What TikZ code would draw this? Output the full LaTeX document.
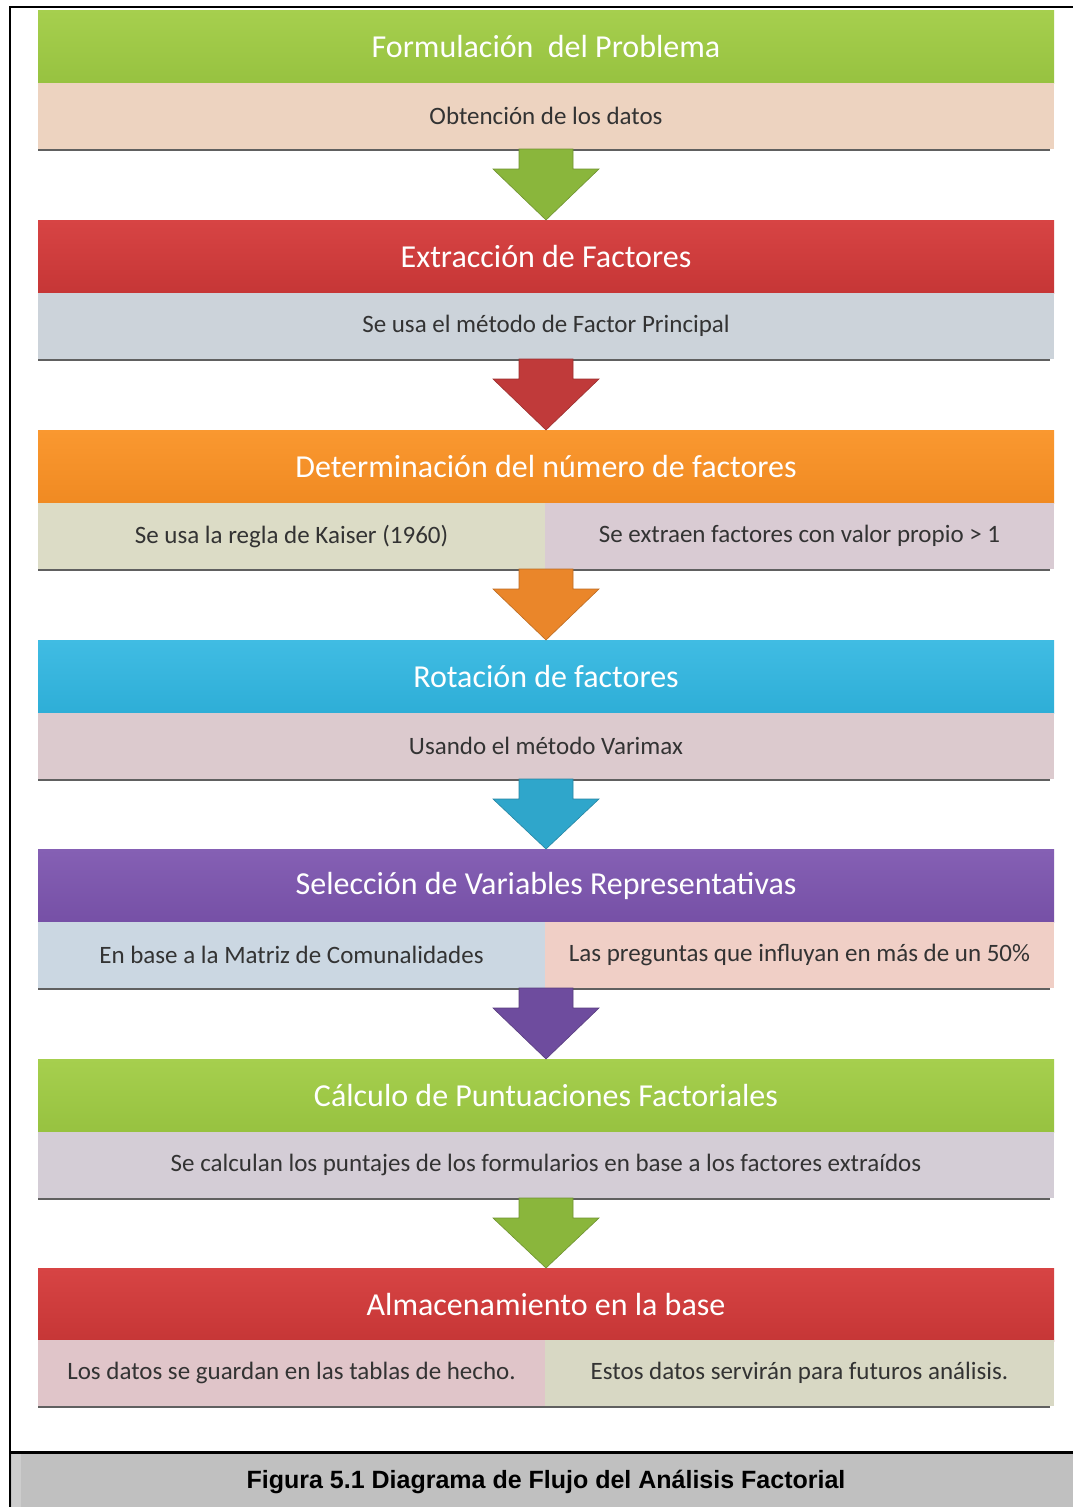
\documentclass[tikz,border=0pt]{standalone}
\usepackage{fontspec}
\setmainfont{Carlito}
\newfontfamily\capfont{Liberation Sans}
\usetikzlibrary{calc}
\definecolor{greenH}{HTML}{A6CF4E}
\definecolor{greenHd}{HTML}{97C240}
\definecolor{redH}{HTML}{D74444}
\definecolor{redHd}{HTML}{C63636}
\definecolor{orangeH}{HTML}{FA9830}
\definecolor{orangeHd}{HTML}{F08A22}
\definecolor{cyanH}{HTML}{40BCE3}
\definecolor{cyanHd}{HTML}{2EAED7}
\definecolor{purpleH}{HTML}{8560B4}
\definecolor{purpleHd}{HTML}{7650A6}
\definecolor{subPeach}{HTML}{EDD3C0}
\definecolor{subGray}{HTML}{CCD3DA}
\definecolor{subBeige}{HTML}{DCDCC6}
\definecolor{subLav}{HTML}{D9CBD3}
\definecolor{subPink}{HTML}{DCCACE}
\definecolor{subBlue}{HTML}{CBD7E2}
\definecolor{subRose}{HTML}{F0CFC6}
\definecolor{subLav2}{HTML}{D4CDD6}
\definecolor{subPink2}{HTML}{E0C5C9}
\definecolor{subBeige2}{HTML}{D8D8C4}
\definecolor{subtext}{HTML}{333333}
\definecolor{arGreen}{HTML}{8AB63C}
\definecolor{arRed}{HTML}{C03A3A}
\definecolor{arOrange}{HTML}{EA862A}
\definecolor{arCyan}{HTML}{2FA6CB}
\definecolor{arPurple}{HTML}{6E4C9E}
\definecolor{capgray}{HTML}{C0C0C0}
\newcommand\flowarrow[3]{%
  \fill[#3, draw=#3!80!black, line width=0.6pt]
    ($(#1)+(-27,0)$) -- ($(#1)+(27,0)$) -- ($(#1)+(27,20)$) -- ($(#1)+(53,20)$)
    -- (#2.north) -- ($(#1)+(-53,20)$) -- ($(#1)+(-27,20)$) -- cycle;}
\begin{document}
\begin{tikzpicture}[x=1pt,y=-1pt,
  hdr/.style={minimum width=1016pt, minimum height=73pt, inner sep=0pt, outer sep=0pt,
    anchor=north west, text=white, font=\fontsize{32}{32}\selectfont},
  subfull/.style={minimum width=1016pt, minimum height=66pt, inner sep=0pt, outer sep=0pt,
    anchor=north west, text=subtext, font=\fontsize{25}{25}\selectfont},
  subleft/.style={subfull, minimum width=507pt},
  subright/.style={subfull, minimum width=509pt},
  shadowline/.style={draw=gray!75!black, line width=2pt}]
\useasboundingbox (0,0) rectangle (1073,1507);
\fill[white] (0,0) rectangle (1073,1507);

% stage 1
\node[hdr, top color=greenH, bottom color=greenHd] (h1) at (38,10) {Formulación \ del Problema};
\node[subfull, fill=subPeach] (s1) at (38,83) {Obtención de los datos};
% stage 2
\node[hdr, top color=redH, bottom color=redHd] (h2) at (38,220) {Extracción de Factores};
\node[subfull, fill=subGray] (s2) at (38,293) {Se usa el método de Factor Principal};
% stage 3
\node[hdr, top color=orangeH, bottom color=orangeHd] (h3) at (38,430) {Determinación del número de factores};
\node[subleft, fill=subBeige] (s3a) at (38,503) {Se usa la regla de Kaiser (1960)};
\node[subright, fill=subLav] (s3b) at (545,503) {Se extraen factores con valor propio > 1};
% stage 4
\node[hdr, top color=cyanH, bottom color=cyanHd] (h4) at (38,640) {Rotación de factores};
\node[subfull, fill=subPink] (s4) at (38,713) {Usando el método Varimax};
% stage 5
\node[hdr, top color=purpleH, bottom color=purpleHd] (h5) at (38,849) {Selección de Variables Representativas};
\node[subleft, fill=subBlue] (s5a) at (38,922) {En base a la Matriz de Comunalidades};
\node[subright, fill=subRose] (s5b) at (545,922) {Las preguntas que influyan en más de un 50\%};
% stage 6
\node[hdr, top color=greenH, bottom color=greenHd] (h6) at (38,1059) {Cálculo de Puntuaciones Factoriales};
\node[subfull, fill=subLav2] (s6) at (38,1132) {Se calculan los puntajes de los formularios en base a los factores extraídos};
% stage 7
\node[hdr, top color=redH, bottom color=redHd] (h7) at (38,1268) {Almacenamiento en la base};
\node[subleft, fill=subPink2] (s7a) at (38,1340) {Los datos se guardan en las tablas de hecho.};
\node[subright, fill=subBeige2] (s7b) at (545,1340) {Estos datos servirán para futuros análisis.};

% shadows under sub rows
\draw[shadowline] ($(s1.south west)+(0,1)$) -- ($(s1.south east)+(-4,1)$);
\draw[shadowline] ($(s2.south west)+(0,1)$) -- ($(s2.south east)+(-4,1)$);
\draw[shadowline] ($(s3a.south west)+(0,1)$) -- ($(s3b.south east)+(-4,1)$);
\draw[shadowline] ($(s4.south west)+(0,1)$) -- ($(s4.south east)+(-4,1)$);
\draw[shadowline] ($(s5a.south west)+(0,1)$) -- ($(s5b.south east)+(-4,1)$);
\draw[shadowline] ($(s6.south west)+(0,1)$) -- ($(s6.south east)+(-4,1)$);
\draw[shadowline] ($(s7a.south west)+(0,1)$) -- ($(s7b.south east)+(-4,1)$);

% arrow start points
\coordinate (a1) at (h1.center |- s1.south);
\coordinate (a2) at (h2.center |- s2.south);
\coordinate (a3) at (h3.center |- s3a.south);
\coordinate (a4) at (h4.center |- s4.south);
\coordinate (a5) at (h5.center |- s5a.south);
\coordinate (a6) at (h6.center |- s6.south);
\flowarrow{a1}{h2}{arGreen}
\flowarrow{a2}{h3}{arRed}
\flowarrow{a3}{h4}{arOrange}
\flowarrow{a4}{h5}{arCyan}
\flowarrow{a5}{h6}{arPurple}
\flowarrow{a6}{h7}{arGreen}

% frame and caption
\fill[capgray] (11,1453) rectangle (1073,1507);
\fill[capgray!80!white] (12,1454) rectangle (21,1507);
\draw[line width=2.5pt] (10,1507) -- (10,7) -- (1073,7);
\draw[line width=2.5pt] (10,1452.5) -- (1073,1452.5);
\node[font=\capfont\bfseries\fontsize{25}{25}\selectfont, text=black] (cap) at (546,1482)
  {Figura 5.1 Diagrama de Flujo del Análisis Factorial};
\end{tikzpicture}
\end{document}
